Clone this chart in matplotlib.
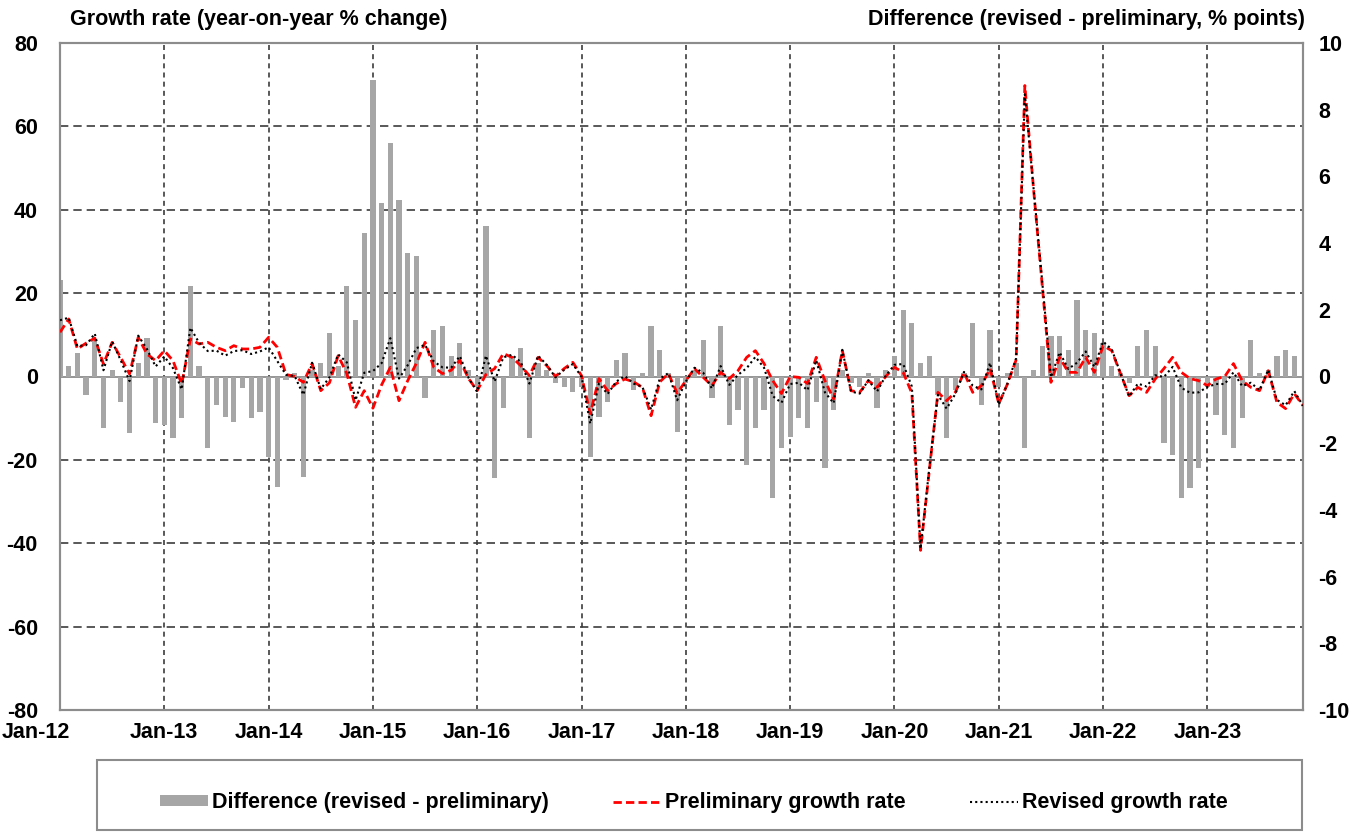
import matplotlib.pyplot as plt
from matplotlib.patches import Rectangle
from matplotlib.ticker import MultipleLocator
from matplotlib.transforms import ScaledTranslation

# monthly data, Jan-12 .. Dec-23
year_labels = ["Jan-12", "Jan-13", "Jan-14", "Jan-15", "Jan-16", "Jan-17",
               "Jan-18", "Jan-19", "Jan-20", "Jan-21", "Jan-22", "Jan-23"]

preliminary = [
    10.6, 13.8, 6.6, 8.0, 9.2, 3.0, 8.2, 4.5, 0.6, 9.4, 5.4, 3.8,
    6.2, 3.8, -1.8, 9.0, 7.8, 8.2, 7.0, 6.2, 7.4, 6.6, 6.6, 7.0,
    9.4, 7.0, 0.5, 0.0, -1.4, 3.1, -3.4, -1.5, 5.0, 0.7, -7.4, -3.4,
    -7.6, -2.0, 2.2, -5.8, -1.0, 3.2, 8.2, 2.2, 0.7, 1.5, 3.9, -0.5,
    -3.4, 0.5, 1.9, 5.5, 4.6, 2.6, 0.2, 4.6, 2.6, 0.0, 1.9, 3.4,
    0.2, -8.9, -0.5, -3.4, -1.7, -0.6, -1.3, -2.6, -9.4, -1.3, 0.7, -4.0,
    -1.0, 1.9, -0.2, -2.2, 1.0, -0.5, 1.4, 4.6, 6.2, 3.1, -1.0, -4.1,
    0.0, -0.2, -1.7, 4.6, -1.0, -5.4, 6.2, -3.4, -3.8, -1.0, -2.6, 0.0,
    2.2, 1.0, -4.0, -41.7, -22.7, -3.8, -5.8, -3.8, 1.0, -3.8, -2.2, 1.9,
    -6.5, -1.8, 4.0, 69.8, 45.0, 21.8, -1.4, 4.6, 1.0, 1.0, 4.6, 1.0,
    7.4, 6.2, 0.7, -4.6, -2.6, -3.8, -0.6, 1.9, 4.6, 1.0, -0.5, -1.0,
    -2.2, -0.6, 0.0, 3.1, -1.0, -2.6, -3.4, 1.4, -6.2, -7.7, -4.1, -7.0,
]

revised = [
    13.5, 14.1, 7.3, 7.5, 10.3, 1.5, 8.4, 3.8, -1.1, 9.8, 6.6, 2.4,
    4.8, 2.0, -3.1, 11.7, 8.1, 6.1, 6.2, 5.0, 6.1, 6.3, 5.4, 6.0,
    7.0, 3.7, 0.4, 0.1, -4.4, 3.3, -3.0, -0.2, 5.3, 3.4, -5.7, 0.9,
    1.3, 3.2, 9.2, -0.5, 2.7, 6.8, 7.6, 3.6, 2.2, 2.1, 4.9, -0.3,
    -3.7, 5.0, -1.2, 4.6, 5.2, 3.5, -1.7, 5.0, 2.8, -0.2, 1.6, 3.0,
    -0.1, -11.3, -1.7, -4.2, -1.2, 0.1, -1.7, -2.5, -7.9, -0.5, 0.8, -5.7,
    -1.2, 2.1, 0.9, -2.9, 2.5, -2.0, 0.4, 2.0, 4.7, 2.1, -4.7, -6.3,
    -1.8, -1.5, -3.3, 3.9, -3.8, -6.4, 6.4, -3.6, -4.1, -0.9, -3.6, 0.2,
    2.8, 3.0, -2.4, -41.3, -22.1, -4.4, -7.7, -4.2, 1.1, -2.2, -3.1, 3.3,
    -6.8, -1.7, 4.4, 67.7, 45.2, 22.7, -0.2, 5.8, 1.8, 3.3, 6.0, 2.3,
    8.4, 6.5, 0.8, -4.8, -1.7, -2.4, 0.3, -0.1, 2.3, -2.7, -3.9, -3.8,
    -2.5, -1.8, -1.8, 1.0, -2.3, -1.5, -3.3, 1.6, -5.6, -6.9, -3.5, -7.0,
]

difference = [
    2.9, 0.3, 0.7, -0.55, 1.1, -1.55, 0.2, -0.75, -1.7, 0.4, 1.15, -1.4,
    -1.45, -1.85, -1.25, 2.7, 0.3, -2.15, -0.85, -1.2, -1.35, -0.35, -1.25, -1.05,
    -2.4, -3.3, -0.1, 0.1, -3.0, 0.2, 0.4, 1.3, 0.3, 2.7, 1.7, 4.3,
    8.9, 5.2, 7.0, 5.3, 3.7, 3.6, -0.65, 1.4, 1.5, 0.6, 1.0, 0.2,
    -0.3, 4.5, -3.05, -0.95, 0.6, 0.85, -1.85, 0.4, 0.2, -0.2, -0.3, -0.45,
    -0.3, -2.4, -1.2, -0.75, 0.5, 0.7, -0.4, 0.1, 1.5, 0.8, 0.1, -1.65,
    -0.2, 0.2, 1.1, -0.65, 1.5, -1.45, -1.0, -2.65, -1.55, -1.0, -3.65, -2.15,
    -1.8, -1.25, -1.55, -0.75, -2.75, -1.0, 0.2, -0.2, -0.3, 0.1, -0.95, 0.2,
    0.6, 2.0, 1.6, 0.4, 0.6, -0.55, -1.85, -0.4, 0.1, 1.6, -0.85, 1.4,
    -0.3, 0.1, 0.4, -2.15, 0.2, 0.9, 1.2, 1.2, 0.8, 2.3, 1.4, 1.3,
    1.0, 0.3, 0.1, -0.2, 0.9, 1.4, 0.9, -2.0, -2.35, -3.65, -3.35, -2.75,
    -0.3, -1.15, -1.75, -2.15, -1.25, 1.1, 0.1, 0.2, 0.6, 0.8, 0.6, 0.0,
]

plt.rcParams["font.family"] = "Liberation Sans"
plt.rcParams["font.weight"] = "bold"
plt.rcParams["font.size"] = 15.5
plt.rcParams["axes.unicode_minus"] = False

frame_color = "#8c8c8c"
grid_color = "#3c3c3c"

months = list(range(len(preliminary)))

fig = plt.figure(figsize=(13.69, 8.32), dpi=100)
ax_bar = fig.add_axes([60 / 1369, 1 - 710 / 832, 1243 / 1369, 667 / 832])
ax_line = ax_bar.twinx()

# difference bars on the right-hand scale
bars = ax_bar.bar(months, difference, width=0.6, color="#a6a6a6", zorder=2)
ax_bar.axhline(0, color="#8c8c8c", lw=1.3, zorder=1.5)
ax_bar.set_ylim(-10, 10)
ax_bar.yaxis.set_major_locator(MultipleLocator(2))
ax_bar.yaxis.set_minor_locator(MultipleLocator(2.5))
ax_bar.yaxis.tick_right()
ax_bar.set_axisbelow(True)
ax_bar.grid(which="minor", axis="y", color=grid_color, lw=1.2, ls=(0, (5, 3)))
ax_bar.grid(which="major", axis="x", color=grid_color, lw=1.2, ls=(0, (3, 2.5)))

ax_bar.set_xlim(0, len(months) - 1)
ax_bar.set_xticks(range(0, len(months), 12))
ax_bar.set_xticklabels(year_labels)

# growth rates on the left-hand scale
l1, = ax_line.plot(months, preliminary, color="#ff0000", lw=2, ls=(0, (3, 1.5)), zorder=3)
l2, = ax_line.plot(months, revised, color="black", lw=1.5, ls=(0, (1, 1.5)), zorder=4)
ax_line.set_ylim(-80, 80)
ax_line.yaxis.set_major_locator(MultipleLocator(20))
ax_line.yaxis.tick_left()

ax_bar.tick_params(axis="y", which="both", length=0, pad=11)
ax_bar.tick_params(axis="x", which="both", length=0, pad=9)
ax_line.tick_params(axis="y", length=0, pad=16)

# first date label sits inside the figure edge
first = ax_bar.xaxis.get_major_ticks()[0].label1
first.set_transform(first.get_transform() + ScaledTranslation(-0.24, 0, fig.dpi_scale_trans))

for a in (ax_bar, ax_line):
    for s in a.spines.values():
        s.set_color(frame_color)
        s.set_linewidth(1.5)

fig.text(70 / 1369, 1 - 19 / 832, "Growth rate (year-on-year % change)",
         ha="left", va="center")
fig.text(1305 / 1369, 1 - 19 / 832, "Difference (revised - preliminary, % points)",
         ha="right", va="center")

fig.legend([bars, l1, l2],
           ["Difference (revised - preliminary)", "Preliminary growth rate", "Revised growth rate"],
           loc="center", bbox_to_anchor=(0.507, 0.035), ncol=3, frameon=False,
           handlelength=2.2, handleheight=0.45, handletextpad=0.2, columnspacing=3.0)
fig.add_artist(Rectangle((97 / 1369, 2 / 832), 1205 / 1369, 70 / 832,
                         transform=fig.transFigure, fill=False,
                         edgecolor=frame_color, lw=1.5))

fig.savefig("out.png", dpi=100)
